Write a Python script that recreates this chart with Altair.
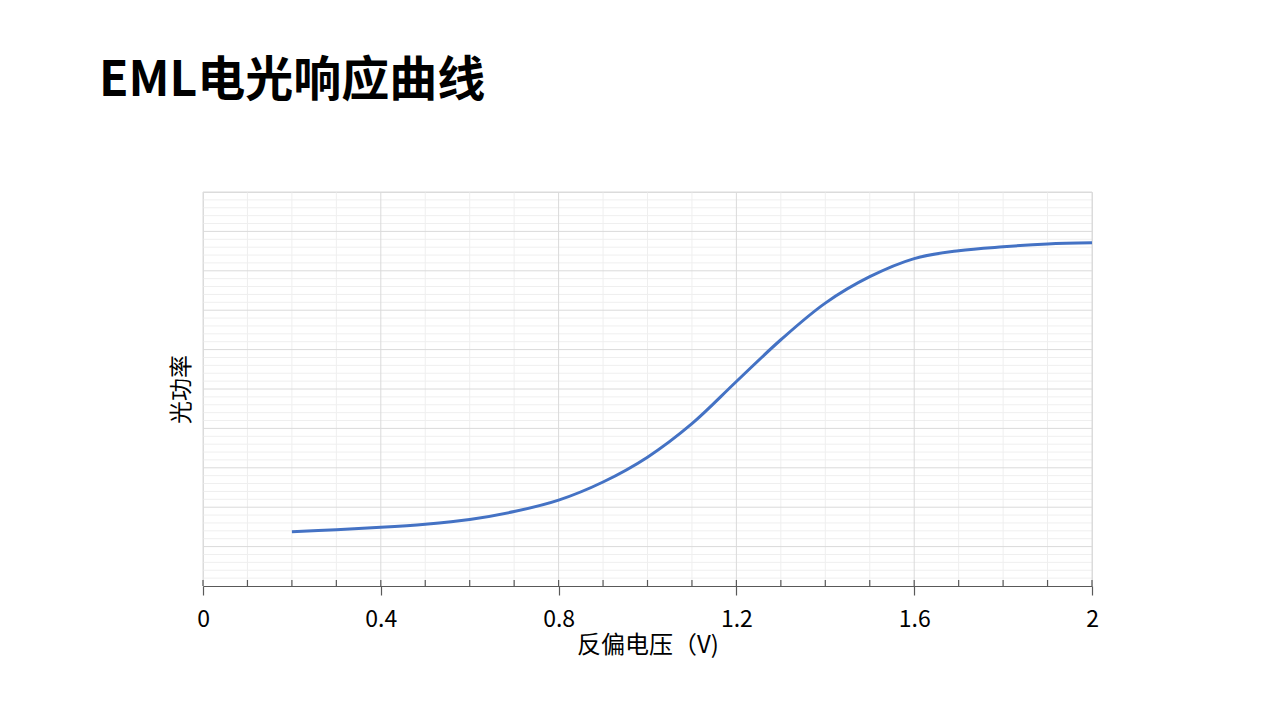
import altair as alt
import pandas as pd

# Curve (reverse bias voltage vs. optical power, arbitrary units)
voltage = [0.2, 0.3, 0.4, 0.5, 0.6, 0.7, 0.8, 0.9, 1.0, 1.1, 1.2, 1.3, 1.4, 1.5, 1.6, 1.7, 1.8, 1.9, 2.0]
power = [1.38, 1.43, 1.49, 1.57, 1.69, 1.89, 2.18, 2.64, 3.27, 4.12, 5.19, 6.25, 7.18, 7.85, 8.31, 8.51, 8.61, 8.68, 8.71]

x_major = [0, 0.4, 0.8, 1.2, 1.6, 2.0]
x_minor = [0.1, 0.2, 0.3, 0.5, 0.6, 0.7, 0.9, 1.0, 1.1, 1.3, 1.4, 1.5, 1.7, 1.8, 1.9]
x_all_ticks = [0, 0.1, 0.2, 0.3, 0.4, 0.5, 0.6, 0.7, 0.8, 0.9, 1.0, 1.1, 1.2, 1.3, 1.4, 1.5, 1.6, 1.7, 1.8, 1.9, 2.0]
y_major = [1, 2, 3, 4, 5, 6, 7, 8, 9, 10]
y_minor = [v / 10 for v in [2, 4, 6, 8, 12, 14, 16, 18, 22, 24, 26, 28, 32, 34, 36, 38, 42, 44, 46, 48,
                             52, 54, 56, 58, 62, 64, 66, 68, 72, 74, 76, 78, 82, 84, 86, 88, 92, 94, 96, 98]]

FONT = "Noto Sans CJK SC"
W, H = 889, 394

xs = alt.Scale(domain=[0, 2], nice=False, zero=False)
ys = alt.Scale(domain=[0, 10], nice=False, zero=False)

curve_df = pd.DataFrame({"v": voltage, "p": power})

x_axis = alt.Axis(
    values=x_major, format="~g", title="反偏电压（V)", grid=False,
    domainColor="#595959", domainWidth=1.2, tickColor="#595959", tickWidth=1.2, tickSize=9,
    labelFont=FONT, labelFontSize=23, labelColor="#000000", labelPadding=13, labelFlush=False,
    titleFont=FONT, titleFontSize=24, titleFontWeight="normal", titleColor="#000000", titlePadding=2,
)
y_axis = alt.Axis(
    title="光功率", grid=False, domain=False, ticks=False, labels=False,
    titleFont=FONT, titleFontSize=23, titleFontWeight="normal", titleColor="#000000", titlePadding=10,
)

vminor = alt.Chart(pd.DataFrame({"x": x_minor})).mark_rule(color="#efefef", strokeWidth=1).encode(
    x=alt.X("x:Q", scale=xs, axis=x_axis), y=alt.value(0), y2=alt.value(H))
hminor = alt.Chart(pd.DataFrame({"y": y_minor})).mark_rule(color="#efefef", strokeWidth=1).encode(
    y=alt.Y("y:Q", scale=ys, axis=y_axis), x=alt.value(0), x2=alt.value(W))
vmajor = alt.Chart(pd.DataFrame({"x": x_major})).mark_rule(color="#dadada", strokeWidth=1).encode(
    x=alt.X("x:Q", scale=xs), y=alt.value(0), y2=alt.value(H))
hmajor = alt.Chart(pd.DataFrame({"y": y_major})).mark_rule(color="#dadada", strokeWidth=1).encode(
    y=alt.Y("y:Q", scale=ys), x=alt.value(0), x2=alt.value(W))
inner_ticks = alt.Chart(pd.DataFrame({"x": x_all_ticks})).mark_rule(color="#595959", strokeWidth=1.2).encode(
    x=alt.X("x:Q", scale=xs), y=alt.value(H - 6), y2=alt.value(H))

line = alt.Chart(curve_df).mark_line(color="#4472C4", strokeWidth=3, interpolate="catmull-rom").encode(
    x=alt.X("v:Q", scale=xs), y=alt.Y("p:Q", scale=ys))

chart = alt.layer(vminor, hminor, vmajor, hmajor, inner_ticks, line).properties(
    width=W, height=H,
    title=alt.TitleParams(
        "EML电光响应曲线", anchor="start", frame="group", orient="top",
        font=FONT, fontSize=48, fontWeight="bold", color="#000000",
        dx=-104, offset=86,
    ),
    autosize=alt.AutoSizeParams(type="none"),
    padding={"left": 195, "top": 184, "right": 20, "bottom": 110},
).configure_view(stroke=None).configure(background="white")

chart.save("out.html", embed_options={"renderer": "svg", "actions": False})
